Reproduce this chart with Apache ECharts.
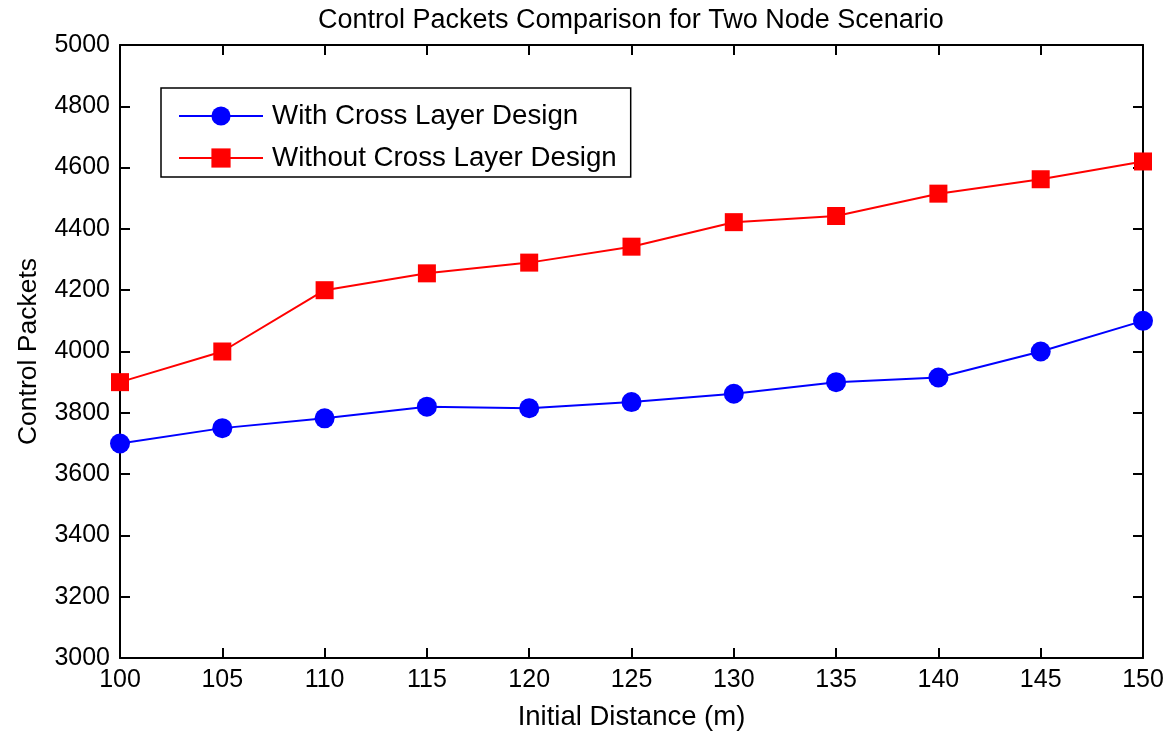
<!DOCTYPE html>
<html><head><meta charset="utf-8">
<script src="https://cdn.jsdelivr.net/npm/echarts@6/dist/echarts.min.js"></script>
<style>html,body{margin:0;padding:0;background:#fff}#c{width:1174px;height:732px}</style>
</head><body><div id="c"></div>
<script>
const distances = [100,105,110,115,120,125,130,135,140,145,150];
const withCross = [3700,3750,3782,3820,3815,3835,3862,3900,3915,4000,4100];
const withoutCross = [3900,4000,4200,4255,4290,4342,4422,4442,4515,4562,4620];
const seriesNames = ['With Cross Layer Design','Without Cross Layer Design'];
const titleText = 'Control Packets Comparison for Two Node Scenario';
const xName = 'Initial Distance (m)';
const yName = 'Control Packets';

const font = 'Liberation Sans, Arial, sans-serif';
const chart = echarts.init(document.getElementById('c'));
const axisCommon = {
  axisLine:{show:true,onZero:false,lineStyle:{color:'#000',width:2}},
  axisTick:{show:true,inside:true,length:10,lineStyle:{color:'#000',width:2}},
  splitLine:{show:false}
};
chart.setOption({
  animation:false,
  backgroundColor:'#fff',
  title:{text:titleText,left:318,top:7,padding:0,textStyle:{fontFamily:font,fontSize:27,fontWeight:'normal',color:'#000'}},
  grid:{left:120,right:31,top:45,bottom:74,containLabel:false,outerBoundsMode:'none'},
  legend:{
    left:161,top:88,orient:'vertical',
    data:seriesNames,
    itemWidth:84,itemHeight:24,itemGap:14,
    padding:[14,14,5,17],
    borderColor:'#000',borderWidth:1.5,backgroundColor:'#fff',
    textStyle:{fontFamily:font,fontSize:27.7,color:'#000',padding:[0,0,0,4]}
  },
  xAxis:[
    Object.assign({type:'value',min:100,max:150,interval:5,position:'bottom',
      name:xName,nameLocation:'middle',nameGap:45,
      nameTextStyle:{fontFamily:font,fontSize:27.5,color:'#000'},
      axisLabel:{fontFamily:font,fontSize:25,color:'#000',margin:10,formatter:v=>String(v)}},axisCommon),
    Object.assign({type:'value',min:100,max:150,interval:5,position:'top',axisLabel:{show:false}},axisCommon)
  ],
  yAxis:[
    Object.assign({type:'value',min:3000,max:5000,interval:200,position:'left',
      name:yName,nameLocation:'middle',nameGap:78,
      nameTextStyle:{fontFamily:font,fontSize:26.5,color:'#000'},
      axisLabel:{fontFamily:font,fontSize:25,color:'#000',margin:10,formatter:v=>String(v)}},axisCommon),
    Object.assign({type:'value',min:3000,max:5000,interval:200,position:'right',axisLabel:{show:false}},axisCommon)
  ],
  series:[
    {name:seriesNames[0],type:'line',data:distances.map((d,i)=>[d,withCross[i]]),
      symbol:'circle',symbolSize:20,color:'#0000ff',clip:false,
      lineStyle:{color:'#0000ff',width:2},itemStyle:{color:'#0000ff'}},
    {name:seriesNames[1],type:'line',data:distances.map((d,i)=>[d,withoutCross[i]]),
      symbol:'rect',symbolSize:18,color:'#ff0000',clip:false,
      lineStyle:{color:'#ff0000',width:2},itemStyle:{color:'#ff0000'}}
  ]
});
</script></body></html>
